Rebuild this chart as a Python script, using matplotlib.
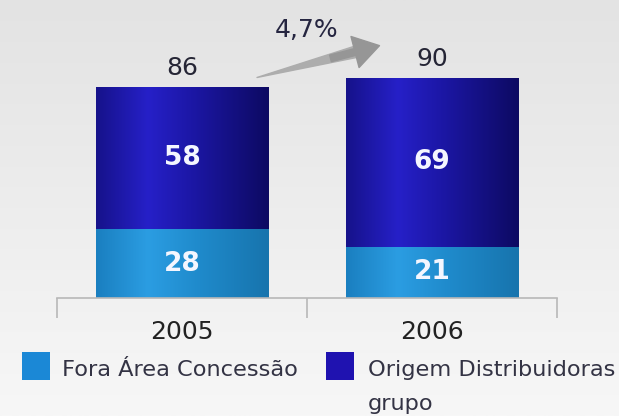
import numpy as np
import matplotlib
matplotlib.use("Agg")
import matplotlib.pyplot as plt
from matplotlib.colors import LinearSegmentedColormap
from matplotlib.patches import Rectangle, FancyArrowPatch

# ---- data ----
years = ["2005", "2006"]
fora_area = [28, 21]
origem_grupo = [58, 69]
totals = [86, 90]
growth_label = "4,7%"
series_labels = ["Fora Área Concessão", "Origem Distribuidoras\ngrupo"]

plt.rcParams['font.family'] = ['DejaVu Sans']

W, H = 619, 416
fig = plt.figure(figsize=(W / 100, H / 100), dpi=100)

# background gradient
bg = fig.add_axes([0, 0, 1, 1], zorder=-10)
bg_cmap = LinearSegmentedColormap.from_list('bg', ['#e3e3e3', '#f7f7f7'])
bg.imshow(np.linspace(0, 1, 256).reshape(-1, 1), aspect='auto', cmap=bg_cmap,
          extent=[0, 1, 0, 1], origin='upper')
bg.set_axis_off()

ax = fig.add_axes([57 / W, (H - 298) / H, 500 / W, 245 / H])
ax.patch.set_alpha(0)

light = '#1b88d6'
dark = '#1f12b0'
x = np.arange(len(years))
bw = 0.69
bars1 = ax.bar(x, fora_area, width=bw, color=light)
bars2 = ax.bar(x, origem_grupo, bottom=fora_area, width=bw, color=dark)

light_grad = [(0, '#1a7fc0'), (0.3, '#2b9de2'), (0.6, '#1f8acb'), (1, '#1774ad')]
dark_grad = [(0, '#16128a'), (0.3, '#2620c8'), (0.55, '#1c17a6'), (1, '#0d0a62')]


def shade(bar, stops):
    x0, y0 = bar.get_x(), bar.get_y()
    w, h = bar.get_width(), bar.get_height()
    cmap = LinearSegmentedColormap.from_list('g', stops)
    im = ax.imshow(np.linspace(0, 1, 256).reshape(1, -1), cmap=cmap, aspect='auto',
                   extent=[x0, x0 + w, y0, y0 + h], zorder=bar.get_zorder() + 0.1)
    im.set_clip_path(bar)


for b in bars1:
    shade(b, light_grad)
for b in bars2:
    shade(b, dark_grad)

ax.set_xlim(-0.5, 1.5)
ax.set_ylim(0, 100)
ax.set_aspect('auto')
for s in ['top', 'left', 'right']:
    ax.spines[s].set_visible(False)
ax.spines['bottom'].set_color('#b8b8b8')
ax.spines['bottom'].set_linewidth(1.2)
ax.set_yticks([])
ax.set_xticks(x, years)
ax.set_xticks([-0.5, 0.5, 1.5], minor=True)
ax.tick_params(axis='x', which='major', length=0, pad=16, labelsize=18,
               labelcolor='#222222')
ax.tick_params(axis='x', which='minor', length=14.4, width=1.2, color='#b8b8b8',
               direction='out')

# segment labels
for xi, v in zip(x, fora_area):
    ax.text(xi, v / 2, str(v), ha='center', va='center', color='#f4f6ff',
            fontsize=19, fontweight='bold', zorder=5)
for xi, v, b in zip(x, origem_grupo, fora_area):
    ax.text(xi, b + v / 2, str(v), ha='center', va='center', color='#f4f6ff',
            fontsize=19, fontweight='bold', zorder=5)

# totals
for xi, t in zip(x, totals):
    ax.annotate(str(t), (xi, t), xytext=(0, 5), textcoords='offset points',
                ha='center', va='bottom', fontsize=18, color='#252535',
                annotation_clip=False)

# growth arrow: tapered body + head
tail = np.array([x[0] + 0.3, totals[0] + 4.0])
tip = np.array([x[1] - 0.21, totals[1] + 13.0])
head_base = tail + 0.82 * (tip - tail)
body = FancyArrowPatch(posA=tuple(head_base), posB=tuple(tail),
                       arrowstyle='wedge,tail_width=0.6,shrink_factor=0.5',
                       mutation_scale=14, color='#adadad', shrinkA=0, shrinkB=0,
                       clip_on=False, zorder=3)
ax.add_patch(body)
head = FancyArrowPatch(posA=tuple(tail + 0.6 * (tip - tail)), posB=tuple(tip),
                       arrowstyle='simple,head_length=1.3,head_width=1.65,tail_width=0.35',
                       mutation_scale=14, color='#969696', shrinkA=0, shrinkB=0,
                       clip_on=False, zorder=3)
ax.add_patch(head)
ax.annotate(growth_label, (0.5, max(totals)), xytext=(0, 34), textcoords='offset points',
            ha='center', va='center', fontsize=18, color='#252540',
            annotation_clip=False)

# legend (squares aligned with first text line)
leg_colors = [light, dark]
sq_x = [22, 326]
txt_x = [62, 368]
for c, sx, tx, lab in zip(leg_colors, sq_x, txt_x, series_labels):
    fig.add_artist(Rectangle((sx / W, (H - 380) / H), 28 / W, 28 / H,
                             transform=fig.transFigure, facecolor=c, edgecolor='none'))
    fig.text(tx / W, (H - 360) / H, lab, ha='left', va='top', fontsize=16.2,
             color='#333344', linespacing=1.85)

fig.savefig('out.png', dpi=100)
